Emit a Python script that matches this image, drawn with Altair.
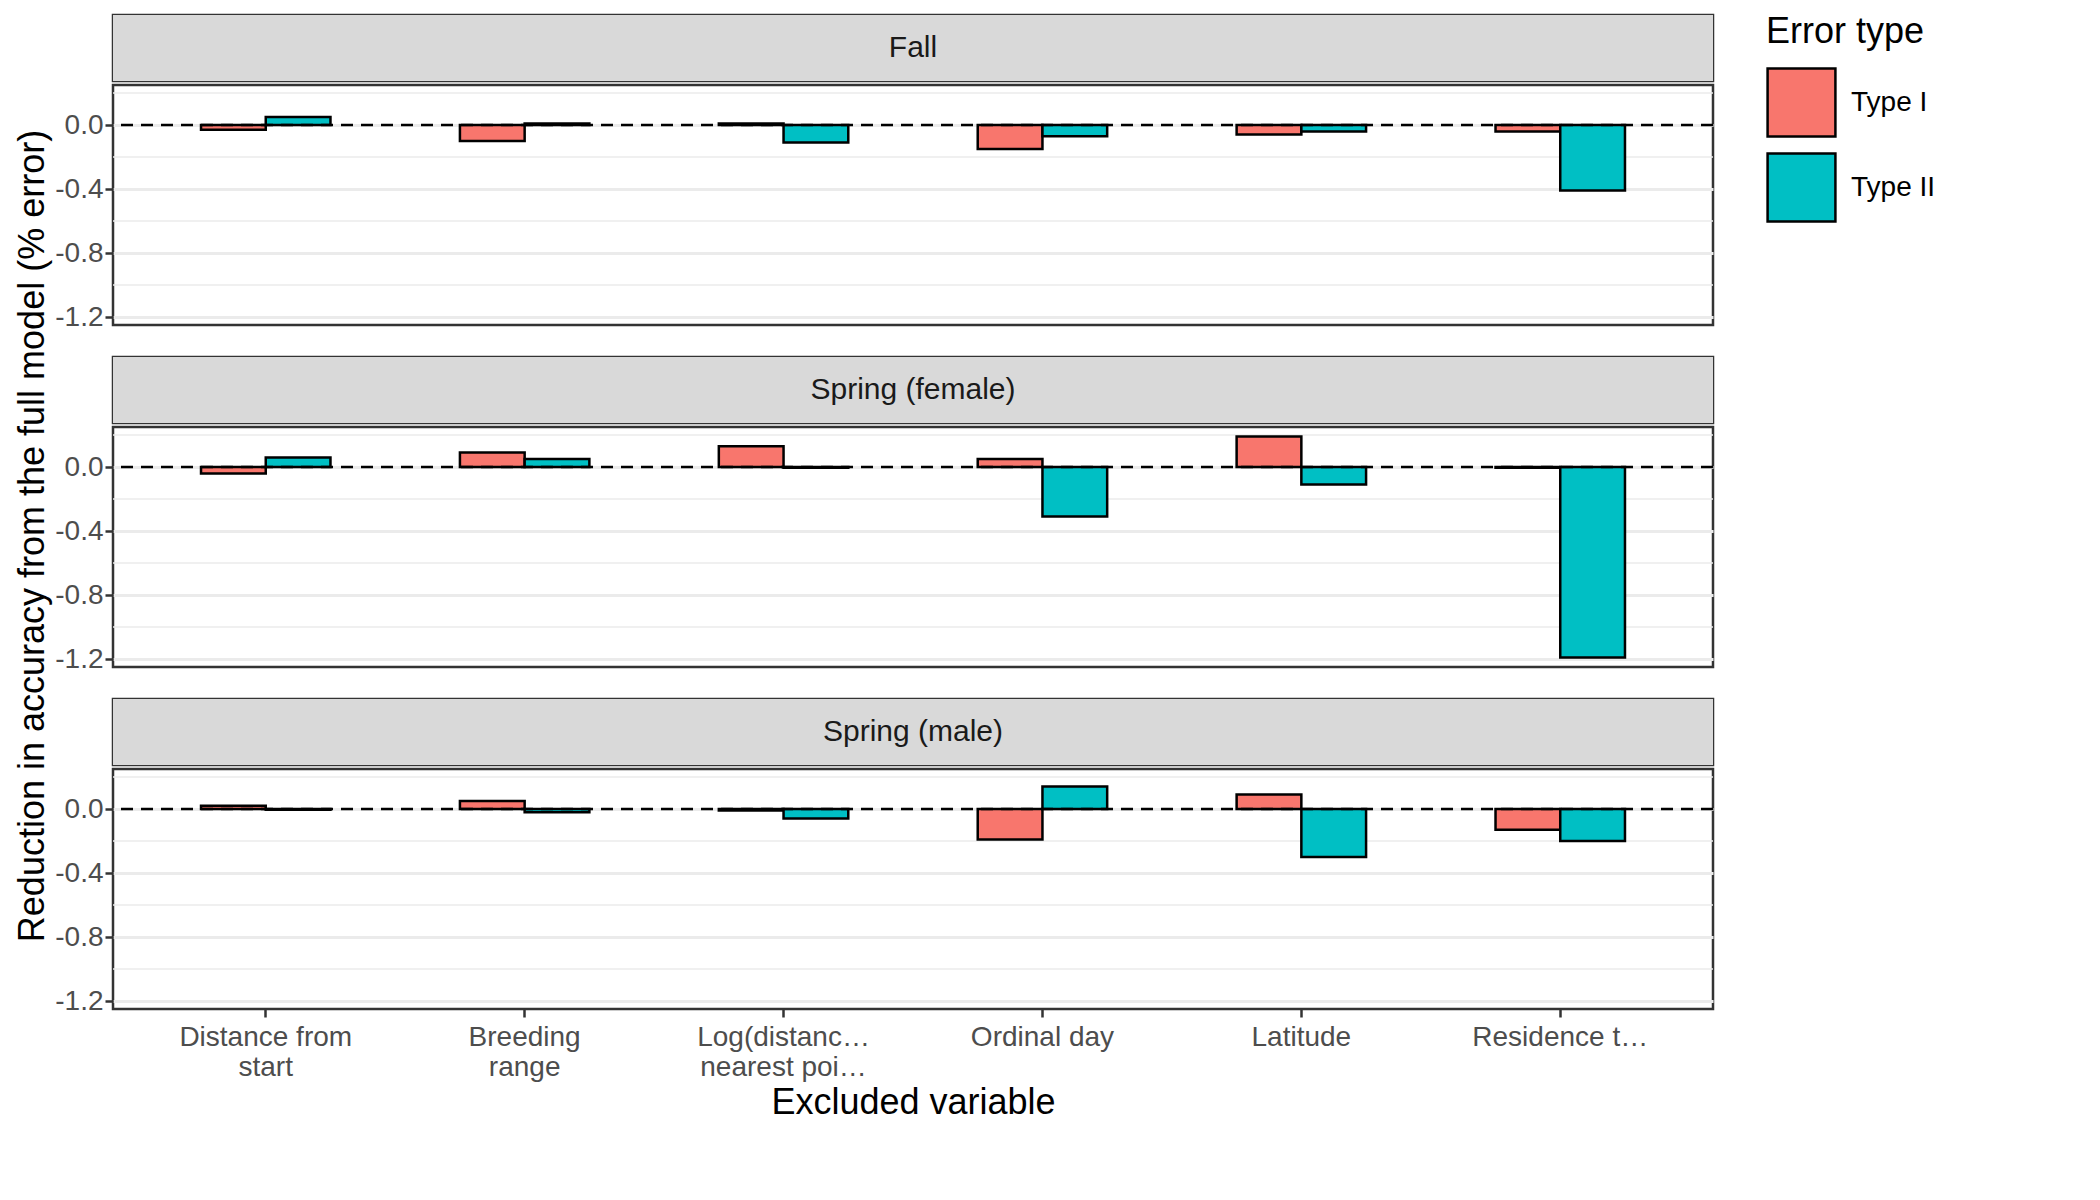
import altair as alt
import pandas as pd

variables = ["Distance from|start", "Breeding|range", "Log(distance to|nearest points)",
             "Ordinal day", "Latitude", "Residence time"]
error_types = ["Type I", "Type II"]
seasons = ["Fall", "Spring (female)", "Spring (male)"]

fall_type1 = [-0.03, -0.10, 0.01, -0.15, -0.06, -0.04]
fall_type2 = [0.05, 0.01, -0.11, -0.07, -0.04, -0.41]
female_type1 = [-0.04, 0.09, 0.13, 0.05, 0.19, -0.005]
female_type2 = [0.06, 0.05, -0.005, -0.31, -0.11, -1.19]
male_type1 = [0.02, 0.05, -0.01, -0.19, 0.09, -0.13]
male_type2 = [-0.005, -0.02, -0.06, 0.14, -0.30, -0.20]

series = {
    "Fall": (fall_type1, fall_type2),
    "Spring (female)": (female_type1, female_type2),
    "Spring (male)": (male_type1, male_type2),
}

W, H, STRIP, GAP = 1600, 240, 66, 22
FONT = "Liberation Sans"

panels = []
for i, season in enumerate(seasons):
    t1, t2 = series[season]
    df = pd.DataFrame({
        "variable": variables * 2,
        "error": ["Type I"] * 6 + ["Type II"] * 6,
        "value": t1 + t2,
    })
    last = i == len(seasons) - 1
    xaxis = alt.Axis(
        title="Excluded variable" if last else "",
        labels=last, ticks=last, domain=False,
        labelExpr="split(datum.label, '|')", labelAngle=0,
        bandPosition=0.5, gridColor="#ebebeb", gridWidth=3,
        labelFontSize=28, labelColor="#4d4d4d", titleFontSize=36,
        titleFontWeight="normal", labelPadding=6, tickSize=8,
        titleColor="black", tickColor="#333333", tickWidth=2.5,
    )
    x = alt.X("variable:N", sort=variables, axis=xaxis,
              scale=alt.Scale(paddingInner=0.5, paddingOuter=0.34))
    yscale = alt.Scale(domain=[-1.25, 0.25], nice=False)
    bars = alt.Chart(df).mark_bar(stroke="black", strokeWidth=2.5).encode(
        x=x,
        xOffset=alt.XOffset("error:N", sort=error_types),
        y=alt.Y("value:Q", scale=yscale,
                axis=alt.Axis(
                    title="", values=[0, -0.4, -0.8, -1.2], format=".1f",
                    gridColor="#ebebeb", gridWidth=3, domain=False,
                    labelFontSize=28, labelColor="#4d4d4d",
                    tickSize=8, tickColor="#333333", tickWidth=2.5,
                    labelExpr="replace(datum.label, '−', '-')",
                )),
        color=alt.Color("error:N", sort=error_types,
                        scale=alt.Scale(domain=error_types, range=["#F8766D", "#00BFC4"]),
                        legend=alt.Legend(title="Error type", symbolType="square",
                                          symbolSize=4600, symbolStrokeColor="black",
                                          symbolStrokeWidth=2.5, labelFontSize=28,
                                          titleFontSize=36, titleFontWeight="normal",
                                          rowPadding=6, titlePadding=16, labelOffset=14)),
    )
    minor = alt.Chart(pd.DataFrame({"v": [0.2, -0.2, -0.6, -1.0]})).mark_rule(
        color="#ebebeb", strokeWidth=1.5).encode(y=alt.Y("v:Q", scale=yscale))
    zero = alt.Chart(pd.DataFrame({"v": [0]})).mark_rule(
        color="black", strokeDash=[12, 8], strokeWidth=2.5).encode(y=alt.Y("v:Q", scale=yscale))
    main = alt.layer(minor, bars, zero).properties(width=W, height=H)

    strip_df = pd.DataFrame({"label": [season]})
    strip_bg = alt.Chart(strip_df).mark_rect(color="#d9d9d9").encode(
        x=alt.value(0), x2=alt.value(W), y=alt.value(0), y2=alt.value(STRIP))
    strip_txt = alt.Chart(strip_df).mark_text(fontSize=30, color="#1a1a1a", font=FONT).encode(
        x=alt.value(W / 2), y=alt.value(STRIP / 2), text="label:N")
    strip = alt.layer(strip_bg, strip_txt).properties(width=W, height=STRIP)
    panels.append(alt.vconcat(strip, main, spacing=0))

total_h = 3 * (H + STRIP) + 2 * GAP
ytitle = alt.Chart(pd.DataFrame({"t": ["Reduction in accuracy from the full model (% error)"]})).mark_text(
    angle=270, fontSize=36, color="black", font=FONT
).encode(x=alt.value(20), y=alt.value(total_h / 2 + 40), text="t:N").properties(
    width=40, height=total_h, view=alt.ViewConfig(stroke=None))

body = alt.vconcat(*panels, spacing=GAP)
chart = alt.hconcat(ytitle, body, spacing=0).configure(font=FONT).configure_view(
    stroke="#333333", strokeWidth=2.5
).configure_legend(labelColor="black", titleColor="black", orient="right", offset=50)
chart.save("out.html", embed_options={"renderer": "svg", "actions": False})
